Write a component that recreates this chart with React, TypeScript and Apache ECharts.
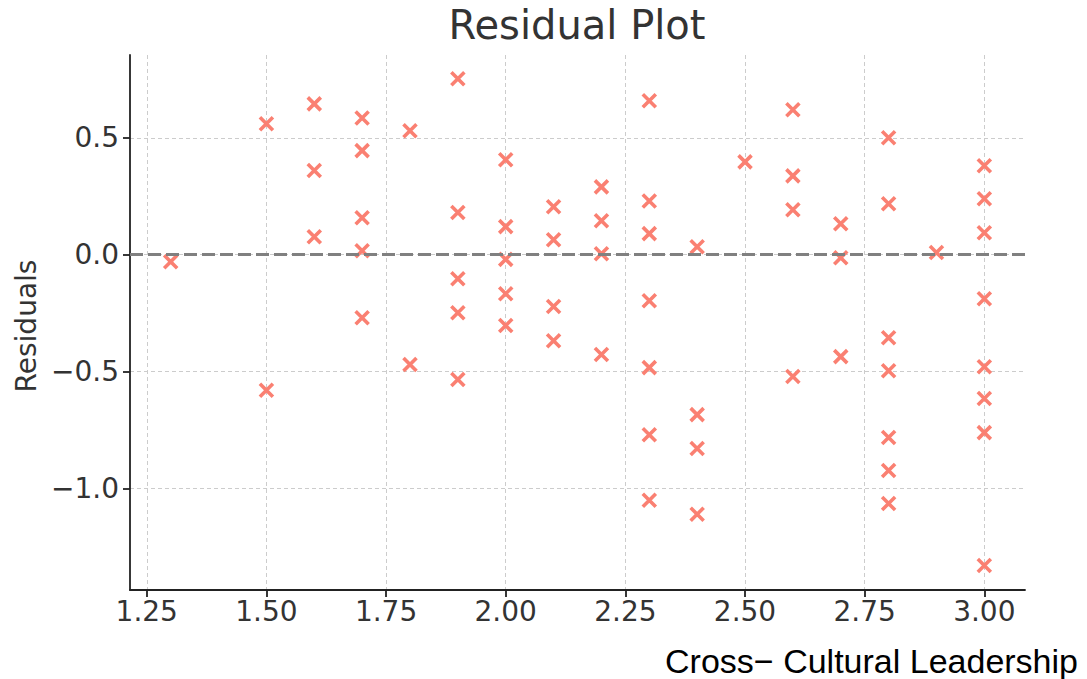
import React, { useEffect, useRef } from "react";
import * as echarts from "echarts";

const crossCultural = [
  1.3,
  1.5, 1.5,
  1.6, 1.6, 1.6,
  1.7, 1.7, 1.7, 1.7, 1.7,
  1.8, 1.8,
  1.9, 1.9, 1.9, 1.9, 1.9,
  2.0, 2.0, 2.0, 2.0, 2.0,
  2.1, 2.1, 2.1, 2.1,
  2.2, 2.2, 2.2, 2.2,
  2.3, 2.3, 2.3, 2.3, 2.3, 2.3, 2.3,
  2.4, 2.4, 2.4, 2.4,
  2.5,
  2.6, 2.6, 2.6, 2.6,
  2.7, 2.7, 2.7,
  2.8, 2.8, 2.8, 2.8, 2.8, 2.8, 2.8,
  2.9,
  3.0, 3.0, 3.0, 3.0, 3.0, 3.0, 3.0, 3.0,
];

const residuals = [
  -0.03,
  0.56, -0.58,
  0.645, 0.36, 0.077,
  0.585, 0.445, 0.158, 0.017, -0.27,
  0.53, -0.47,
  0.752, 0.18, -0.103, -0.248, -0.534,
  0.406, 0.12, -0.02, -0.167, -0.303,
  0.205, 0.064, -0.222, -0.368,
  0.29, 0.145, 0.004, -0.427,
  0.658, 0.23, 0.09, -0.197, -0.483, -0.77, -1.05,
  0.034, -0.684, -0.829, -1.11,
  0.397,
  0.62, 0.337, 0.192, -0.521,
  0.132, -0.013, -0.436,
  0.5, 0.218, -0.355, -0.496, -0.782, -0.923, -1.064,
  0.009,
  0.38, 0.239, 0.094, -0.188, -0.479, -0.615, -0.761, -1.329,
];

const xTicks = [1.25, 1.5, 1.75, 2.0, 2.25, 2.5, 2.75, 3.0];
const yTicks = [-1.0, -0.5, 0.0, 0.5];

const titleText = "Residual Plot";
const xLabel = "Cross\u2212 Cultural Leadership";
const yLabel = "Residuals";

export default function App() {
  const ref = useRef<HTMLDivElement>(null);

  useEffect(() => {
    if (!ref.current) return;
    const chart = echarts.init(ref.current, null, { renderer: "svg" });
    const points = crossCultural.map((x, i) => [x, residuals[i]]);
    const tickFont = "DejaVu Sans";
    chart.setOption({
      animation: false,
      backgroundColor: "#ffffff",
      grid: { left: 130, right: 62, top: 55, bottom: 89, containLabel: false },
      xAxis: {
        type: "value",
        min: 1.215,
        max: 3.085,
        axisLine: { show: true, onZero: false, lineStyle: { color: "#222", width: 1.8 } },
        axisTick: { show: true, inside: false, length: 7, customValues: xTicks, lineStyle: { color: "#222", width: 1.8 } },
        axisLabel: {
          customValues: xTicks,
          formatter: (v: number) => v.toFixed(2),
          fontSize: 28,
          color: "#333",
          fontFamily: tickFont,
          margin: 7,
        },
        splitLine: { show: true, lineStyle: { type: [4, 3], color: "#cccccc", width: 1 } },
      },
      yAxis: {
        type: "value",
        min: -1.434,
        max: 0.854,
        axisLine: { show: true, onZero: false, lineStyle: { color: "#222", width: 1.8 } },
        axisTick: { show: true, inside: false, length: 7, customValues: yTicks, lineStyle: { color: "#222", width: 1.8 } },
        axisLabel: {
          customValues: yTicks,
          formatter: (v: number) => (v < 0 ? "\u2212" + Math.abs(v).toFixed(1) : v.toFixed(1)),
          fontSize: 28,
          color: "#333",
          fontFamily: tickFont,
          margin: 11,
        },
        splitLine: { show: true, lineStyle: { type: [4, 3], color: "#cccccc", width: 1 } },
      },
      series: [
        {
          type: "scatter",
          data: points,
          symbol: "path://M0,0L10,10M0,10L10,0",
          symbolSize: 13,
          itemStyle: { color: "#FA8072", borderColor: "#FA8072", borderWidth: 3.6, opacity: 1 },
          markLine: {
            silent: true,
            symbol: ["none", "none"],
            label: { show: false },
            lineStyle: { type: [13, 5], color: "#808080", width: 3 },
            data: [{ yAxis: 0 }],
          },
          z: 3,
        },
      ],
      graphic: [
        {
          type: "text",
          x: 577,
          y: 25,
          style: {
            text: titleText,
            fontSize: 40,
            fontFamily: "DejaVu Sans",
            fill: "#333",
            textAlign: "center",
            textVerticalAlign: "middle",
          },
        },
        {
          type: "text",
          x: 26,
          y: 326,
          rotation: Math.PI / 2,
          style: {
            text: yLabel,
            fontSize: 28,
            fontFamily: "DejaVu Sans",
            fill: "#333",
            textAlign: "center",
            textVerticalAlign: "middle",
          },
        },
        {
          type: "text",
          x: 1078,
          y: 661,
          style: {
            text: xLabel,
            fontSize: 34,
            fontFamily: "Liberation Sans",
            fill: "#000",
            textAlign: "right",
            textVerticalAlign: "middle",
          },
        },
      ],
    });
    return () => chart.dispose();
  }, []);

  return (
    <div
      ref={ref}
      style={{ position: "fixed", left: 0, top: 0, width: 1087, height: 679 }}
    />
  );
}
